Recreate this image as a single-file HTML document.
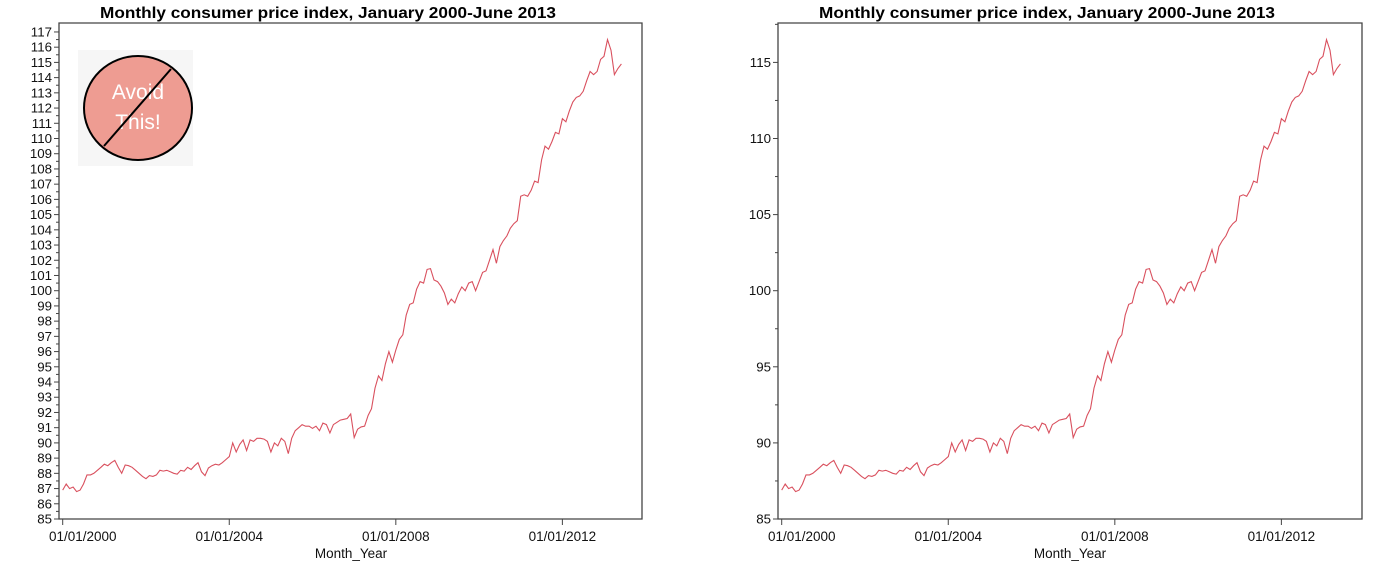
<!DOCTYPE html>
<html><head><style>
body{margin:0;background:#fff;}
svg{display:block;font-family:"Liberation Sans",Arial,sans-serif;}
</style></head><body>
<svg id="s" width="1374" height="565" xmlns="http://www.w3.org/2000/svg">
<rect width="1374" height="565" fill="#fff"/>
<g id="L"></g>
<g id="R"></g>
<rect x="78" y="50" width="115" height="116" fill="#f6f6f6"/>
<ellipse cx="138" cy="108" rx="54" ry="52" fill="#ee9c92" stroke="#000" stroke-width="2"/>
<text x="138" y="99" font-size="21" fill="#fff" text-anchor="middle">Avoid</text>
<text x="138" y="129" font-size="21" fill="#fff" text-anchor="middle">This!</text>
<line x1="104" y1="146" x2="171" y2="69" stroke="#000" stroke-width="2"/>
</svg>
<script>
var v=[86.9,87.3,87.0,87.1,86.8,86.9,87.3,87.9,87.9,88.0,88.2,88.4,
88.6,88.5,88.7,88.85,88.4,88.0,88.55,88.5,88.4,88.2,88.0,87.8,
87.65,87.85,87.8,87.9,88.2,88.15,88.2,88.1,88.0,87.95,88.2,88.15,
88.4,88.25,88.5,88.7,88.1,87.85,88.35,88.5,88.6,88.55,88.7,88.9,
89.1,90.0,89.4,89.9,90.2,89.5,90.2,90.1,90.3,90.3,90.25,90.1,
89.4,90.0,89.8,90.3,90.1,89.3,90.3,90.8,91.0,91.2,91.1,91.1,
90.95,91.1,90.8,91.3,91.2,90.65,91.2,91.35,91.5,91.55,91.6,91.9,
90.35,90.9,91.05,91.1,91.8,92.25,93.6,94.4,94.1,95.2,96.0,95.3,
96.1,96.8,97.1,98.4,99.1,99.2,100.1,100.6,100.5,101.4,101.45,100.7,
100.6,100.3,99.85,99.1,99.45,99.2,99.8,100.25,100.0,100.5,100.6,100.0,
100.6,101.2,101.3,102.0,102.7,101.8,102.9,103.3,103.6,104.1,104.4,104.6,
106.2,106.3,106.2,106.6,107.2,107.1,108.6,109.5,109.3,109.8,110.4,110.3,
111.3,111.1,111.8,112.4,112.7,112.8,113.1,113.8,114.4,114.2,114.4,115.2,
115.4,116.5,115.8,114.2,114.6,114.9];
function Y(a){return 519-(a-85)*15.22;}
function build(g,ox,ax,right,full){
 var h='';
 var pts=v.map(function(a,i){return (ox+62.7+i*3.47).toFixed(1)+','+Y(a).toFixed(1);}).join(' ');
 h+='<polyline points="'+pts+'" fill="none" stroke="#d9505e" stroke-width="1.1"/>';
 h+='<path d="M'+ax+' 23 H'+right+' V519 H'+ax+' Z" fill="none" stroke="#444" stroke-width="1.3"/>';
 if(full){
  for(var k=85;k<=117;k++){var y=Y(k);h+='<line x1="'+(ax-5)+'" y1="'+y+'" x2="'+ax+'" y2="'+y+'" stroke="#444"/>';
   h+='<text x="'+(ax-7)+'" y="'+(y+4.5)+'" font-size="13.3" text-anchor="end" fill="#111">'+k+'</text>';
   if(k<117){var y2=Y(k+.5);h+='<line x1="'+(ax-3)+'" y1="'+y2+'" x2="'+ax+'" y2="'+y2+'" stroke="#444"/>';}}
 } else {
  for(var k=85;k<=117.5;k+=2.5){var y=Y(k);var maj=(k%5==0);
   h+='<line x1="'+(ax-(maj?5:3))+'" y1="'+y+'" x2="'+ax+'" y2="'+y+'" stroke="#444"/>';
   if(maj&&k<=115)h+='<text x="'+(ax-7)+'" y="'+(y+4.5)+'" font-size="13.3" text-anchor="end" fill="#111">'+k+'</text>';}
 }
 var yrs=['01/01/2000','01/01/2004','01/01/2008','01/01/2012'];
 for(var j=0;j<4;j++){var x=ox+62.7+j*48*3.47;
  h+='<line x1="'+x+'" y1="519" x2="'+x+'" y2="525" stroke="#444"/>';
  if(j==0)h+='<text x="'+(ox+49)+'" y="541" font-size="13.5" fill="#111">'+yrs[j]+'</text>';
  else h+='<text x="'+x+'" y="541" font-size="13.5" text-anchor="middle" fill="#111">'+yrs[j]+'</text>';}
 h+='<text x="'+(ox+351)+'" y="558" font-size="13.5" text-anchor="middle" fill="#111">Month_Year</text>';
 h+='<text x="'+(ox+100)+'" y="18" font-size="16" font-weight="bold" textLength="456" lengthAdjust="spacingAndGlyphs" fill="#000">Monthly consumer price index, January 2000-June 2013</text>';
 document.getElementById(g).innerHTML=h;
}
build('L',0,59,642,true);
build('R',719,778,1362,false);
</script>
</body></html>
